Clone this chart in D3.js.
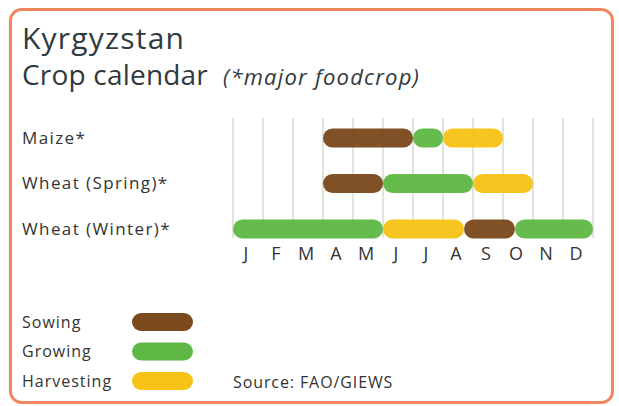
<!DOCTYPE html>
<html>
<head>
<meta charset="utf-8">
<script src="https://cdn.jsdelivr.net/npm/d3@7/dist/d3.min.js"></script>
<style>
  html, body { margin: 0; padding: 0; background: #fff; }
  svg { display: block; font-family: "Open Sans", "Noto Sans", sans-serif; }
  .label { fill: #333; }
</style>
</head>
<body>
<svg id="chart" width="619" height="406"></svg>
<script>
// Months along the calendar
const months = ['J', 'F', 'M', 'A', 'M', 'J', 'J', 'A', 'S', 'O', 'N', 'D'];

// Crops, top to bottom
const crops = ['Maize*', 'Wheat (Spring)*', 'Wheat (Winter)*'];

// Stages per crop: [stage, start month, end month] (0 = start of Jan)
const maizeStages = [['Sowing', 3, 6], ['Growing', 6, 7], ['Harvesting', 7, 9]];
const springWheatStages = [['Sowing', 3, 5], ['Growing', 5, 8], ['Harvesting', 8, 10]];
const winterWheatStages = [['Growing', 0, 5], ['Harvesting', 5, 7.7], ['Sowing', 7.7, 9.4], ['Growing', 9.4, 12]];

const stageNames = ['Sowing', 'Growing', 'Harvesting'];
const stageColors = ['#7b4a1d', '#5fb845', '#f6c316'];

const svg = d3.select('#chart');

// Card frame
svg.append('rect')
  .attr('x', 10.5).attr('y', 9.5)
  .attr('width', 602).attr('height', 393)
  .attr('rx', 11)
  .attr('fill', '#fff')
  .attr('stroke', '#f0875c')
  .attr('stroke-width', 3);

// Titles
svg.append('text')
  .attr('x', 22).attr('y', 49)
  .attr('fill', '#2f3a3e')
  .style('font-size', '30px')
  .style('letter-spacing', '1.2px')
  .text('Kyrgyzstan');

svg.append('text')
  .attr('x', 22).attr('y', 85)
  .attr('fill', '#2f3a3e')
  .style('font-size', '28px')
  .style('letter-spacing', '0.2px')
  .text('Crop calendar');

svg.append('text')
  .attr('x', 223).attr('y', 85)
  .attr('fill', '#2f3a3e')
  .style('font-size', '22px')
  .style('font-style', 'italic')
  .style('letter-spacing', '1.2px')
  .text('(*major foodcrop)');

// Scales
const x = d3.scaleLinear().domain([0, 12]).range([233, 593]);
const y = d3.scalePoint().domain(crops).range([138, 229]);
const color = d3.scaleOrdinal().domain(stageNames).range(stageColors);
const barH = 19;

// Vertical grid lines at month boundaries
svg.append('g')
  .selectAll('line')
  .data(d3.range(0, 13))
  .join('line')
  .attr('x1', d => x(d)).attr('x2', d => x(d))
  .attr('y1', 118).attr('y2', 238)
  .attr('stroke', '#dde6d9')
  .attr('stroke-width', 2);

// Month axis
const xAxis = d3.axisBottom(d3.scaleBand().domain(d3.range(12)).range(x.range()))
  .tickFormat(i => months[i])
  .tickSize(0)
  .tickPadding(0);
const axisG = svg.append('g')
  .attr('transform', 'translate(-2, 247)')
  .call(xAxis);
axisG.select('.domain').remove();
axisG.selectAll('text')
  .attr('fill', '#333')
  .style('font-size', '18px')
  .style('font-family', '"Open Sans", sans-serif');

// Crop labels
svg.append('g')
  .selectAll('text')
  .data(crops)
  .join('text')
  .attr('class', 'label')
  .attr('x', 22)
  .attr('y', d => y(d))
  .attr('dy', '0.35em')
  .style('font-size', '17px')
  .style('letter-spacing', '1.4px')
  .text(d => d);

// Bars
const segments = [maizeStages, springWheatStages, winterWheatStages]
  .flatMap((stages, i) => stages.map(s => ({ crop: crops[i], stage: s[0], start: s[1], end: s[2] })));

svg.append('g')
  .selectAll('rect')
  .data(segments)
  .join('rect')
  .attr('x', d => x(d.start))
  .attr('y', d => y(d.crop) - barH / 2)
  .attr('width', d => x(d.end) - x(d.start))
  .attr('height', barH)
  .attr('rx', barH / 2)
  .attr('fill', d => color(d.stage))
  .attr('fill-opacity', 0.96);

// Legend
const legendY = d3.scalePoint().domain(stageNames).range([322, 381]);
const legend = svg.append('g')
  .selectAll('g')
  .data(stageNames)
  .join('g')
  .attr('transform', d => `translate(0, ${legendY(d)})`);

legend.append('rect')
  .attr('x', 132).attr('y', -9)
  .attr('width', 61).attr('height', 18)
  .attr('rx', 9)
  .attr('fill', d => color(d));

legend.append('text')
  .attr('class', 'label')
  .attr('x', 22)
  .attr('dy', '0.35em')
  .style('font-size', '16px')
  .style('letter-spacing', '1px')
  .text(d => d);

// Source
svg.append('text')
  .attr('class', 'label')
  .attr('x', 233).attr('y', 382)
  .attr('dy', '0.35em')
  .style('font-size', '16px')
  .style('letter-spacing', '0.9px')
  .text('Source: FAO/GIEWS');
</script>
</body>
</html>
